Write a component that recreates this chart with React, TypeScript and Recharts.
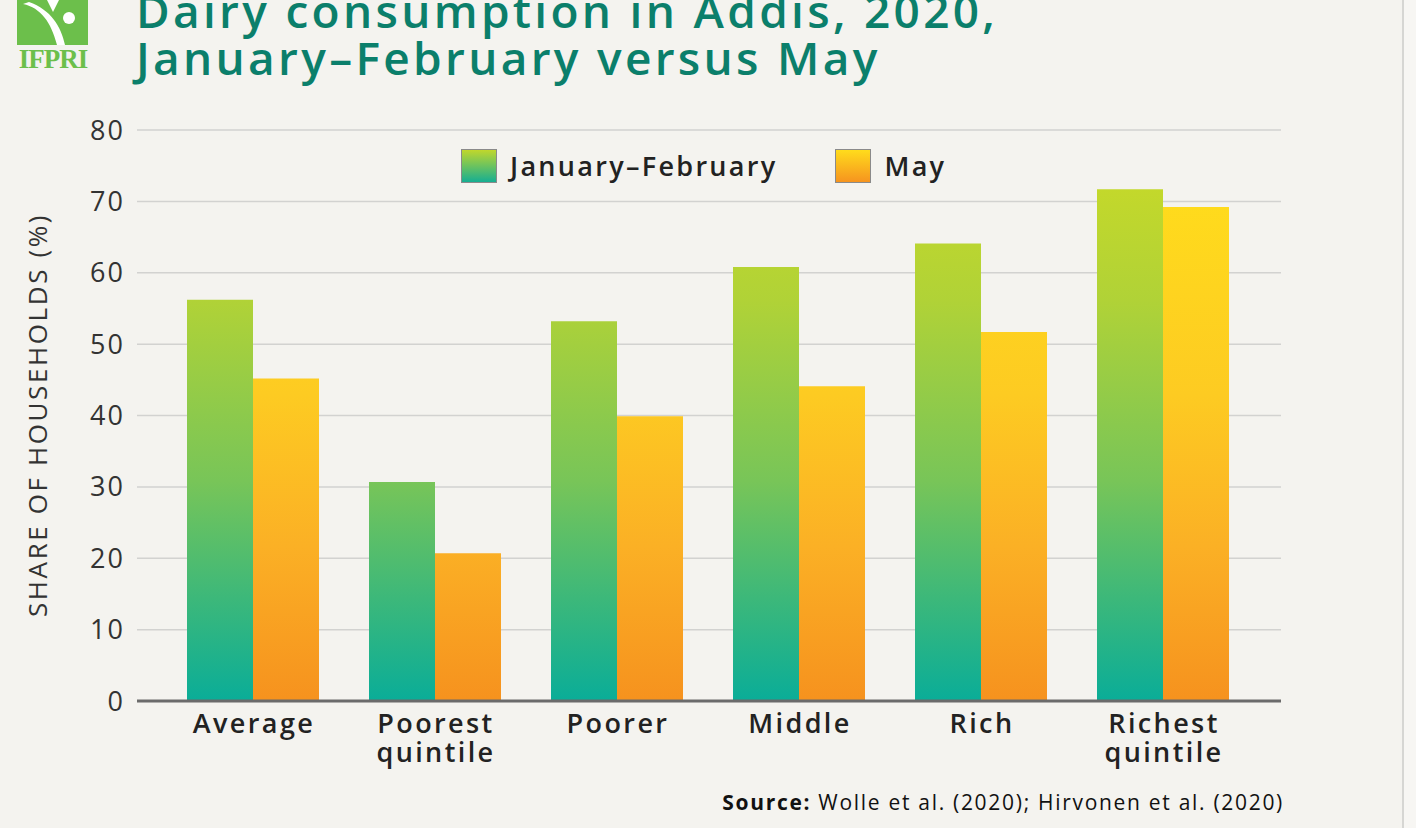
import React from "react";
import { BarChart, Bar, XAxis, YAxis, CartesianGrid } from "recharts";

const categories = ["Average", "Poorest\nquintile", "Poorer", "Middle", "Rich", "Richest\nquintile"];
const janFeb = [56.2, 30.7, 53.2, 60.8, 64.1, 71.7];
const may = [45.2, 20.7, 39.9, 44.1, 51.7, 69.2];
const yTicks = [0, 10, 20, 30, 40, 50, 60, 70, 80];
const seriesNames = ["January–February", "May"];

const data = categories.map((c, i) => ({ name: c, jf: janFeb[i], may: may[i] }));

const FONT = "'Open Sans', Lato, sans-serif";

const XTick = (props: any) => {
  const { x, y, payload } = props;
  const lines = String(payload.value).split("\n");
  return (
    <text x={x + 1} y={y} textAnchor="middle" fontFamily={FONT} fontSize={27} fontWeight={600} letterSpacing={2.4} fill="#222">
      {lines.map((l, i) => (
        <tspan key={i} x={x + 1} dy={i === 0 ? 24 : 29}>
          {l}
        </tspan>
      ))}
    </text>
  );
};

const LegendBox = () => (
  <div style={{ position: "absolute", left: 461, top: 149, display: "flex", alignItems: "center", fontFamily: FONT, fontSize: 27, fontWeight: 600, color: "#222", whiteSpace: "nowrap", lineHeight: "34px", letterSpacing: 2.3 }}>
    <div style={{ width: 36, height: 34, border: "1.5px solid #8a8a8a", background: "linear-gradient(#c0d72c, #16ae92)", boxSizing: "border-box" }} />
    <span style={{ marginLeft: 13 }}>{seriesNames[0]}</span>
    <div style={{ width: 36, height: 34, marginLeft: 58, border: "1.5px solid #8a8a8a", background: "linear-gradient(#ffdc1c, #f6941f)", boxSizing: "border-box" }} />
    <span style={{ marginLeft: 13 }}>{seriesNames[1]}</span>
  </div>
);

export default function App() {
  return (
    <div style={{ position: "absolute", left: 0, top: 0, width: 1416, height: 828, background: "#f7f6f3", overflow: "hidden" }}>
      <div style={{ position: "absolute", left: 0, top: 0, width: 1402, height: 828, background: "#f4f3ef", borderRight: "2px solid #d6d6d3" }} />
      {/* Logo */}
      <div style={{ position: "absolute", left: 17, top: 0, width: 71, height: 45, background: "#6cbf4b" }}>
        <svg width={71} height={45}>
          <path d="M6 4 C 24 8, 34 22, 40 45 L 48 45 C 44 26, 34 10, 12 2 Z" fill="#fff" />
          <circle cx={52} cy={18} r={6} fill="#fff" />
          <path d="M30 0 L36 12 L42 0 Z" fill="#fff" />
        </svg>
      </div>
      <div style={{ position: "absolute", left: 15, top: 45, width: 76, textAlign: "center", fontFamily: "'Liberation Serif', serif", fontWeight: 700, fontSize: 27, color: "#6cbf4b", lineHeight: "28px", letterSpacing: -1 }}>
        IFPRI
      </div>
      {/* Title */}
      <div style={{ position: "absolute", left: 136, top: -13, fontFamily: FONT, fontWeight: 600, fontSize: 46, lineHeight: "47px", color: "#0b7f6b", whiteSpace: "nowrap", letterSpacing: 3.3 }}>
        <div>Dairy consumption in Addis, 2020,</div>
        <div>January–February versus May</div>
      </div>
      {/* Y label */}
      <div style={{ position: "absolute", left: 37, top: 415, transform: "translate(-50%, -50%) rotate(-90deg)", fontFamily: FONT, fontSize: 26, color: "#333", whiteSpace: "nowrap", letterSpacing: 2.6 }}>
        SHARE OF HOUSEHOLDS (%)
      </div>
      {/* Source */}
      <div style={{ position: "absolute", right: 1416 - 1284, top: 788, fontFamily: FONT, fontSize: 21, color: "#111", whiteSpace: "nowrap", letterSpacing: 1.7 }}>
        <b>Source:</b> Wolle et al. (2020); Hirvonen et al. (2020)
      </div>
      <LegendBox />
      <div style={{ position: "absolute", left: 0, top: 0 }}>
        <BarChart width={1416} height={828} data={data} margin={{ top: 130, right: 135, bottom: 67, left: 0 }} barCategoryGap={25} barGap={0}>
          <defs>
            <linearGradient id="gJF" gradientUnits="userSpaceOnUse" x1={0} y1={701} x2={0} y2={189}>
              <stop offset="0" stopColor="#0aad98" />
              <stop offset="0.2" stopColor="#3cb87a" />
              <stop offset="0.43" stopColor="#78c558" />
              <stop offset="0.78" stopColor="#b0d237" />
              <stop offset="1" stopColor="#c3d82b" />
            </linearGradient>
            <linearGradient id="gMay" gradientUnits="userSpaceOnUse" x1={0} y1={701} x2={0} y2={189}>
              <stop offset="0" stopColor="#f6921e" />
              <stop offset="0.3" stopColor="#fbb025" />
              <stop offset="0.6" stopColor="#fdcb22" />
              <stop offset="1" stopColor="#ffdc1c" />
            </linearGradient>
          </defs>
          <CartesianGrid vertical={false} stroke="#d2d2d0" strokeWidth={1.5} />
          <XAxis
            dataKey="name"
            tick={<XTick />}
            tickLine={false}
            axisLine={{ stroke: "#6b6b6b", strokeWidth: 3 }}
            height={60}
            padding={{ left: 25, right: 27 }}
            interval={0}
          />
          <YAxis
            domain={[0, 80]}
            ticks={yTicks}
            width={137}
            tickLine={false}
            axisLine={false}
            tickSize={0}
            tickMargin={12}
            tick={{ fontFamily: FONT, fontSize: 27, fontWeight: 500, fill: "#333", letterSpacing: 2 }}
          />
          <Bar dataKey="jf" name={seriesNames[0]} fill="url(#gJF)" isAnimationActive={false} />
          <Bar dataKey="may" name={seriesNames[1]} fill="url(#gMay)" isAnimationActive={false} />
        </BarChart>
      </div>
    </div>
  );
}
